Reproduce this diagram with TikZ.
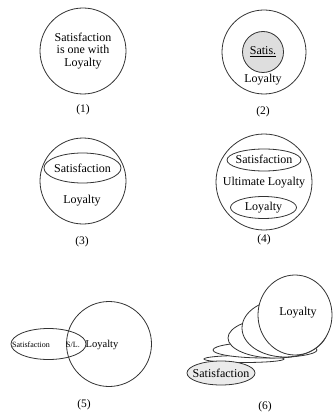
\documentclass[tikz,border=0pt]{standalone}
\usepackage{fontspec}
\setmainfont{Liberation Serif}
\begin{document}
\begin{tikzpicture}[x=1pt,y=-1pt,
  outline/.style={draw=black!80, line width=0.8pt},
  shaded/.style={outline, fill=black!13},
  blank/.style={outline, fill=white},
  txt/.style={font=\fontsize{12}{12.5}\selectfont, inner sep=0pt, align=center},
  small/.style={font=\fontsize{8}{9}\selectfont, inner sep=0pt},
  mid/.style={font=\fontsize{10.5}{12}\selectfont, inner sep=0pt},
  num/.style={font=\fontsize{11.5}{12.5}\selectfont, inner sep=0pt}]
\useasboundingbox (0,0) rectangle (336,414);

% (1) satisfaction and loyalty as one circle
\draw[outline] (83,51) circle [radius=43];
\node[txt] (one) at (83,51) {Satisfaction\\is one with\\Loyalty};
\node[num] (n1) at (83,110) {(1)};

% (2) satisfaction nested inside loyalty
\draw[outline] (264,52) circle [radius=42];
\draw[shaded] (263,52) circle [radius=20.5];
\node[txt] (sat2) at (263,52) {\underline{Satis.}};
\node[txt] (loy2) at (263,80) {Loyalty};
\node[num] (n2) at (263,112) {(2)};

% (3) satisfaction as an ellipse within loyalty
\draw[outline] (83,181) circle [radius=43];
\draw[outline] (82.5,168) ellipse [x radius=38.5, y radius=15];
\node[txt] (sat3) at (82.5,168) {Satisfaction};
\node[txt] (loy3) at (82,201) {Loyalty};
\node[num] (n3) at (82,242) {(3)};

% (4) ultimate loyalty containing both
\draw[outline] (264,182) circle [radius=48];
\draw[outline] (264,160) ellipse [x radius=37, y radius=11];
\draw[outline] (263.5,207.5) ellipse [x radius=33, y radius=11];
\node[txt] (sat4) at (264,159.5) {Satisfaction};
\node[txt] (ult4) at (264,183) {Ultimate Loyalty};
\node[txt] (loy4) at (263.5,207.5) {Loyalty};
\node[num] (n4) at (264,240) {(4)};

% (5) overlapping satisfaction and loyalty
\draw[outline] (109,344) circle [radius=42.5];
\draw[outline] (48.5,344) ellipse [x radius=37.5, y radius=15.5];
\node[small] (sat5) at (31,345) {Satisfaction};
\node[small] (sl5) at (73,345) {S/L.};
\node[mid] (loy5) at (102,345) {Loyalty};
\node[num] (n5) at (84,405) {(5)};

% (6) satisfaction growing into loyalty, back to front
\draw[blank] (244,359) ellipse [x radius=40, y radius=3.5];
\draw[blank] (265,350) ellipse [x radius=52, y radius=8];
\draw[blank] (275,338) ellipse [x radius=47, y radius=20];
\draw[blank] (285,328) ellipse [x radius=43, y radius=29];
\draw[blank] (295,315) ellipse [x radius=37, y radius=40];
\draw[outline, fill=black!8] (221,373) ellipse [x radius=34, y radius=12];
\node[txt] (loy6) at (298,313) {Loyalty};
\node[txt] (sat6) at (221,373) {Satisfaction};
\node[num] (n6) at (265,407) {(6)};
\end{tikzpicture}
\end{document}
